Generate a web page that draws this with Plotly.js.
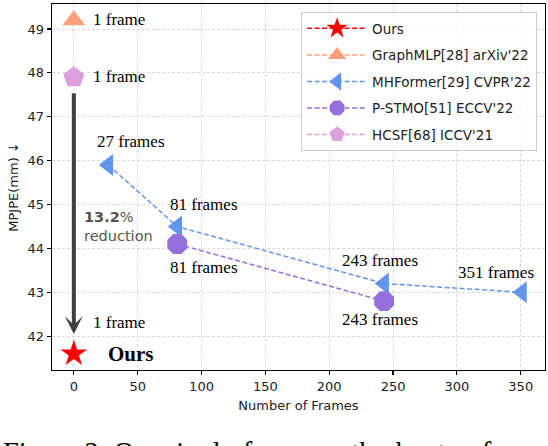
<!DOCTYPE html>
<html>
<head>
<meta charset="utf-8">
<script src="https://cdn.plot.ly/plotly-3.0.1.min.js"></script>
<style>html,body{margin:0;padding:0;background:#fff;}#chart{width:548px;height:446px;}</style>
</head>
<body>
<div id="chart"></div>
<script>
// ---- data ----
const seriesNames = ["Ours", "GraphMLP[28] arXiv'22", "MHFormer[29] CVPR'22", "P-STMO[51] ECCV'22", "HCSF[68] ICCV'21"];
const oursFrames = [1];
const oursX = [0];
const oursY = [41.6];
const graphmlpFrames = [1];
const graphmlpX = [0];
const graphmlpY = [49.2];
const mhformerFrames = [27, 81, 243, 351];
const mhformerY = [45.9, 44.5, 43.2, 43.0];
const pstmoFrames = [81, 243];
const pstmoY = [44.1, 42.8];
const hcsfFrames = [1];
const hcsfX = [0];
const hcsfY = [47.9];
const xTicks = [0, 50, 100, 150, 200, 250, 300, 350];
const yTicks = [42, 43, 44, 45, 46, 47, 48, 49];
const reductionPct = 13.2;
const captionText = "Figure 2: Our single-frame method outperforms";

const colors = {ours: '#ff0000', graph: '#ffa07a', mh: '#6495ed', pstmo: '#9370db', hcsf: '#dda0dd'};
const lineStyle = (c) => ({color: c, width: 1.5, dash: '5px,2.5px'});

function tr(name, x, y, color, symbol, size, group) {
  return {
    type: 'scatter', mode: 'lines+markers', name: name, x: x, y: y,
    legendgroup: group,
    line: lineStyle(color),
    marker: {symbol: symbol, size: size, color: color, line: {width: 0}},
    hoverinfo: 'skip', cliponaxis: false
  };
}

const traces = [
  tr(seriesNames[0], oursX, oursY, colors.ours, 'star', 20, 'g0'),
  tr(seriesNames[1], graphmlpX, graphmlpY, colors.graph, 'triangle-up', 20, 'g1'),
  tr(seriesNames[2], mhformerFrames, mhformerY, colors.mh, 'triangle-left', 19, 'g2'),
  tr(seriesNames[3], pstmoFrames, pstmoY, colors.pstmo, 'octagon', 21.5, 'g3'),
  tr(seriesNames[4], hcsfX, hcsfY, colors.hcsf, 'pentagon', 22, 'g4')
];

const serif = 'Liberation Serif';
const lbl = (t, x, y, xs, ys, anchor) => ({
  text: t, x: x, y: y, xref: 'x', yref: 'y', showarrow: false,
  xshift: xs, yshift: ys, xanchor: anchor || 'center', yanchor: 'middle',
  font: {family: serif, size: 17, color: '#000'}
});
const fr = (n) => n + (n === 1 ? ' frame' : ' frames');

const annotations = [
  lbl(fr(graphmlpFrames[0]), graphmlpX[0], graphmlpY[0], 17, 1, 'left'),
  lbl(fr(hcsfFrames[0]), hcsfX[0], hcsfY[0], 17, 1, 'left'),
  lbl(fr(mhformerFrames[0]), mhformerFrames[0], mhformerY[0], 23, 24),
  lbl(fr(mhformerFrames[1]), mhformerFrames[1], mhformerY[1], 27, 22),
  lbl(fr(mhformerFrames[2]), mhformerFrames[2], mhformerY[2], -4, 23),
  lbl(fr(mhformerFrames[3]), mhformerFrames[3], mhformerY[3], -26, 20),
  lbl(fr(pstmoFrames[0]), pstmoFrames[0], pstmoY[0], 27, -23),
  lbl(fr(pstmoFrames[1]), pstmoFrames[1], pstmoY[1], -4, -18),
  lbl(fr(oursFrames[0]), oursX[0], oursY[0], 17, 31, 'left'),
  {text: '<b>Ours</b>', x: oursX[0], y: oursY[0], xref: 'x', yref: 'y', showarrow: false,
   xshift: 32, xanchor: 'left', yanchor: 'middle', font: {family: serif, size: 21, color: '#000'}},
  // reduction arrow from HCSF level down to Ours level
  {text: '', x: oursX[0], y: 42.05, ax: hcsfX[0], ay: 47.57, xref: 'x', yref: 'y', axref: 'x', ayref: 'y',
   showarrow: true, arrowhead: 3, arrowsize: 0.75, arrowwidth: 4, arrowcolor: '#3f3f3f'},
  {text: '<b>' + reductionPct + '</b>%<br>reduction', x: 0, y: 44.5, xref: 'x', yref: 'y', showarrow: false,
   xshift: 8, xanchor: 'left', yanchor: 'middle', align: 'left',
   font: {family: 'DejaVu Sans', size: 14.5, color: '#555555'}},
  {text: captionText, x: -0.1035, y: -0.178, xref: 'paper', yref: 'paper', showarrow: false,
   xanchor: 'left', yanchor: 'top', align: 'left', font: {family: serif, size: 28.5, color: '#000'}}
];

const axisCommon = {
  showline: true, mirror: true, linecolor: '#000', linewidth: 1.3,
  ticks: 'outside', ticklen: 4, tickwidth: 1.1, tickcolor: '#000',
  showgrid: true, gridcolor: '#cfcfcf', gridwidth: 0.8, griddash: '3px,2px',
  zeroline: false, tickfont: {family: 'DejaVu Sans', size: 13, color: '#222'}
};

const layout = {
  width: 548, height: 446,
  margin: {l: 52, r: 3, t: 4, b: 76},
  paper_bgcolor: '#fff', plot_bgcolor: '#fff',
  font: {family: 'DejaVu Sans', size: 13, color: '#222'},
  xaxis: Object.assign({}, axisCommon, {
    range: [-17.1, 369], tickvals: xTicks, ticktext: xTicks.map(String),
    title: {text: 'Number of Frames', font: {family: 'DejaVu Sans', size: 13, color: '#222'}, standoff: 8}
  }),
  yaxis: Object.assign({}, axisCommon, {
    range: [41.23, 49.57], tickvals: yTicks, ticktext: yTicks.map(String),
    title: {text: 'MPJPE(mm) ↓', font: {family: 'DejaVu Sans', size: 13, color: '#222'}, standoff: 6}
  }),
  showlegend: true,
  legend: {
    x: 0.984, xanchor: 'right', y: 0.978, yanchor: 'top',
    bgcolor: 'rgba(255,255,255,0.85)', bordercolor: '#cccccc', borderwidth: 1,
    font: {family: 'DejaVu Sans', size: 13.5, color: '#222'},
    itemwidth: 60, tracegroupgap: 6, traceorder: 'grouped'
  },
  annotations: annotations
};

Plotly.newPlot('chart', traces, layout, {displayModeBar: false, staticPlot: true});
</script>
</body>
</html>
